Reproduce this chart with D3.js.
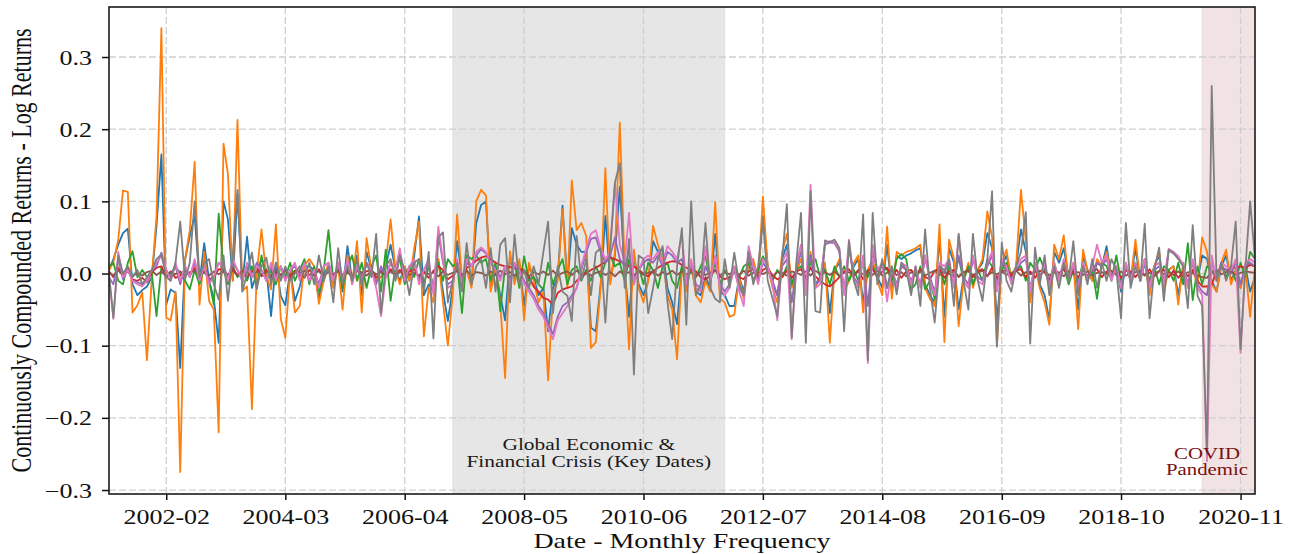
<!DOCTYPE html>
<html lang="en">
<head>
<meta charset="UTF-8">
<title>Continuously Compounded Returns</title>
<style>
  body { margin: 0; background: #fff; }
  svg text { font-family: "Liberation Serif", "DejaVu Serif", serif; fill: #111; }
</style>
</head>
<body>
<svg id="chart"></svg>
<script src="https://cdn.jsdelivr.net/npm/d3@7/dist/d3.min.js"></script>
<script>
// monthly observations, first one is 2001-02; values are log returns in percent
const firstMonth = "2001-02";
const tickMonths = ["2002-02", "2004-03", "2006-04", "2008-05", "2010-06", "2012-07", "2014-08", "2016-09", "2018-10", "2020-11"];
const yTicks = [-0.3, -0.2, -0.1, 0.0, 0.1, 0.2, 0.3];
const crisisSpan = ["2007-02", "2011-11"];
const covidSpan = ["2020-03", "2021-03"];
const crisisLabel = ["Global Economic &", "Financial Crisis (Key Dates)"];
const covidLabel = ["COVID", "Pandemic"];

const blue = [
  0.5, 2.0, 4.0, 5.6, 6.2, -1.5, -3.0, -2.3, -1.8, -0.5, 6.6, 16.5,
  -4.3, -2.2, -2.7, -13.1, 1.9, 5.2, 8.0, -1.3, 4.2, -1.0, -3.5, -9.6,
  10.0, 7.5, -1.0, 11.0, -1.5, 5.1, -2.0, 0.0, 2.0, 0.5, -5.9, 1.5,
  -3.1, -4.4, 0.5, -3.8, -1.8, 1.0, 1.0, 0.5, -3.5, 0.0, 1.0, -1.5,
  1.0, -2.5, 3.8, -1.0, 2.5, -3.0, 3.0, 0.5, -0.5, -0.5, 1.0, 4.0,
  0.5, -1.0, 1.0, -1.0, 2.5, 7.9, -3.0, -1.5, -2.5, 2.0, -2.5, -6.6,
  -2.0, 4.5, -0.5, 0.5, -1.5, 7.0, 9.5, 10.0, -2.0, 0.5, -3.0, -6.5,
  2.5, -1.0, 1.5, -4.5, 1.0, -0.5, -3.0, -2.0, -8.0, -2.0, -0.5, 9.4,
  -1.5, 6.3, 4.0, 3.0, 3.0, -7.5, -8.0, -1.5, 8.0, -1.0, 2.5, 12.0,
  0.5, -6.0, 2.5, -1.5, -3.0, -1.0, 4.5, 3.0, 3.4, -2.0, -4.0, -7.0,
  1.0, -2.0, 1.0, -2.5, -3.0, -0.5, -2.0, 5.5, -2.5, -3.0, -4.5, -4.5,
  -0.5, -2.5, 1.5, 1.5, -0.5, 8.0, 1.0, -1.5, -3.0, 2.0, 4.0, -1.5,
  0.5, 2.0, -1.0, 2.5, -1.5, -0.5, 1.0, -5.5, 0.5, 1.5, -2.0, -1.0,
  1.0, 2.0, -4.0, 0.5, 1.5, -0.5, -2.0, 4.0, -2.5, 2.5, 2.0, 2.5,
  2.8, 3.2, 3.5, -1.5, -3.0, -4.0, 5.0, -6.0, 3.5, 1.5, -5.0, -0.5,
  1.0, -1.5, 0.5, 1.5, 5.6, 3.5, -6.5, 1.0, 2.5, -0.5, 1.0, 6.1,
  3.0, -3.0, 1.0, -1.5, -3.0, -6.4, 3.0, 1.5, 3.5, -0.5, 1.0, -5.0,
  2.5, 0.5, -1.0, 1.5, 1.0, 3.8, -0.5, 1.0, -2.5, 1.0, -1.0, 3.5,
  -1.0, 1.5, -2.5, 1.0, 2.5, -2.0, 0.5, 1.0, -3.0, 1.0, -1.5, 0.5,
  -1.0, 2.5, 2.0, -1.0, -2.5, 1.0, 2.5, -1.0, 0.5, -2.0, 1.0, -2.5,
  -0.5
];
const orange = [
  0.5, 1.5, 4.7, 11.5, 11.3, -5.4, -4.4, -2.6, -12.0, -0.5, 8.0, 34.0,
  -6.1, -6.5, -2.5, -27.5, 2.0, 6.0, 15.5, -4.3, 3.0, -3.8, -5.0, -22.0,
  18.0, 13.8, -1.0, 21.3, -2.4, -1.8, -18.8, 0.2, 6.1, -0.4, -2.2, 6.8,
  -6.3, -8.9, 0.5, -5.4, -4.5, 1.2, 2.0, 1.0, -4.2, -1.0, 1.5, -2.0,
  1.0, -5.0, 2.5, -1.5, 4.5, -5.4, 4.9, 0.5, -1.0, -0.5, 1.5, 7.5,
  0.5, -1.5, 1.0, -1.0, 3.5, 7.2, -8.7, -2.0, -4.0, 2.0, -4.0, -10.0,
  -3.0, 8.2, -1.0, 0.5, -2.0, 10.0, 11.6, 10.8, -2.5, 1.0, -4.0, -14.5,
  3.1, -1.5, 2.0, -6.5, 1.5, -1.0, -4.0, -2.5, -14.8, -3.0, -1.0, 8.9,
  -2.0, 12.9, 6.0, 7.0, 5.2, -10.3, -9.5, -2.0, 14.6, -1.5, 3.0, 20.9,
  1.0, -10.5, 3.3, -2.0, -4.0, -1.0, 6.6, 4.0, 2.0, -3.0, -5.0, -11.9,
  1.0, -2.5, 1.5, -3.0, -4.0, -1.0, -2.5, 9.9, -3.5, -4.0, -6.0, -5.7,
  -0.5, -3.5, 1.5, 2.0, -1.0, 10.7, 1.0, -2.0, -4.0, 3.0, 5.5, -2.0,
  0.5, 2.0, -1.5, 3.0, -2.0, -0.5, 1.5, -9.6, 0.5, 2.0, -2.5, -1.0,
  1.5, 2.5, -5.4, 0.5, 2.0, -1.0, -3.0, 6.5, -3.5, 3.0, 2.5, 3.0,
  3.2, 3.5, 4.0, -2.0, -3.5, -4.5, 6.8, -9.5, 4.7, 2.0, -7.3, -1.0,
  1.5, -2.0, 0.5, 2.0, 8.6, 5.0, -10.1, 1.5, 3.3, -1.0, 1.0, 11.6,
  4.5, -4.0, 1.0, -2.0, -4.0, -7.1, 4.0, 2.0, 5.3, -1.0, 1.5, -7.7,
  3.3, 0.5, -1.0, 2.0, 1.0, 3.0, -0.5, 1.0, -2.0, 1.5, -1.0, 4.7,
  -1.0, 2.0, -3.0, 1.0, 3.0, -2.5, 0.5, 1.0, -4.3, 1.5, -2.0, 0.5,
  -1.5, 5.0, 3.0, -1.5, -2.5, 1.5, 3.3, -1.5, 0.5, -2.0, 1.0, -6.0,
  1.0
];
const green = [
  1.0, 1.5, -1.0, -1.5, 1.5, 3.1, -0.5, 0.5, -0.5, 0.0, -5.9, 1.0,
  -0.5, 0.0, 1.0, 0.0, -1.0, -2.2, 0.5, -1.5, 1.0, -1.0, -4.3, 8.3,
  0.5, -1.5, 1.0, -0.5, 0.5, -1.0, 1.0, -2.0, 2.5, -1.0, 0.5, -1.5,
  1.0, -0.5, 1.5, -1.0, 0.5, 2.0, -1.5, 1.0, -2.5, 0.5, 6.0, -1.0,
  1.5, -2.0, 1.0, 2.5, -1.0, 1.5, -2.0, 1.0, 2.5, -2.5, 3.3, -3.8,
  1.0, 2.0, -1.5, 1.0, -0.5, 2.0, -1.5, 1.0, -2.0, 1.5, -1.0, 2.0,
  1.0, 1.5, -5.5, 2.5, 2.0, 2.5, 1.5, 2.0, -1.0, 1.5, -5.2, 1.0,
  -1.0, 1.5, -2.0, 2.4, -1.0, -0.5, -1.5, -2.2, 1.5, -1.5, 0.5, 2.0,
  -1.5, 0.5, 1.0, -1.0, 0.5, -1.0, 1.0, -0.5, 1.5, 2.5, 1.0, 1.5,
  -1.0, 2.0, -1.5, 1.0, -1.5, 1.5, 0.5, -2.0, 1.0, 1.5, -1.0, -2.0,
  1.0, -1.5, 1.5, -0.5, 1.0, 2.4, -1.0, 1.5, -1.5, 0.5, -1.0, 1.0,
  -0.5, 1.0, 1.5, -1.0, 0.5, 2.4, 1.0, -1.0, 0.5, -0.5, 1.0, -1.5,
  0.5, 1.0, -1.0, 1.5, 2.0, -0.5, 0.5, -1.5, 1.0, -0.5, 1.0, -1.0,
  0.5, -1.0, 1.5, -0.5, 1.0, -0.5, 1.5, 0.5, -1.0, 2.0, 2.7, 2.0,
  -2.2, -1.5, 1.0, -2.2, -1.0, -3.5, 1.0, -1.5, 1.0, -0.5, 2.2, -1.0,
  1.0, -1.5, 0.5, -1.0, 2.0, 1.0, -1.0, 0.5, 1.5, -1.0, 0.5, 1.0,
  -1.0, 1.5, 0.5, 2.2, 0.5, -1.5, 1.5, -1.0, 1.0, -1.5, 0.5, -1.0,
  1.5, -1.0, 0.5, -3.5, 1.5, 1.0, -1.0, 2.5, -1.0, 1.0, -0.5, 1.5,
  -1.0, 2.0, -1.0, 1.0, -1.5, 1.0, 0.5, -1.0, 1.5, -1.5, 4.2, -3.7,
  1.0, -1.5, 1.0, 0.5, -1.0, 1.5, -0.5, 1.0, -1.0, 1.5, -0.5, 3.0,
  2.0
];
const red = [
  0.3, -0.5, 0.8, -0.3, 0.5, -0.8, -1.0, -0.6, -1.2, 0.2, 0.8, 1.0,
  -0.5, 0.3, -0.6, -0.3, 0.5, -0.2, 0.8, -0.4, 0.3, -0.8, -0.5, 0.6,
  0.5, -0.3, 0.7, -0.2, 0.4, -0.5, 0.3, 0.8, -0.4, 0.5, -0.6, 0.2,
  -0.3, 0.6, -0.5, 0.4, 0.2, -0.6, 0.5, -0.3, 0.6, -0.4, 0.3, -0.2,
  0.5, -0.3, 0.4, -0.5, 0.6, -0.2, 0.3, 0.5, -0.6, 0.4, -0.3, 0.6,
  -0.2, 0.5, -0.4, 0.3, 0.6, -0.5, 0.2, -0.6, 0.4, 1.0, 0.5, -0.8,
  -0.3, 0.6, -0.5, 0.8, 1.2, 1.8, 2.2, 2.4, 2.0, 1.5, 1.2, 1.0,
  0.9, 0.8, 0.6, 0.5, -0.5, -1.8, -2.5, -3.4, -3.6, -4.3, -2.7, -2.2,
  -2.0, -1.8, -1.0, -0.4, 0.0, 0.5, 0.8, 1.2, 1.6, 2.2, 2.0, 1.7,
  1.3, 1.0, 1.0, 0.5, 0.0, -0.4, 0.3, 0.8, 1.2, 1.5, 1.7, 1.6,
  1.2, 0.8, 0.5, 0.3, -0.5, -0.8, -0.3, 0.5, -0.4, -0.8, -0.5, 0.2,
  -0.5, -0.8, 0.3, 0.6, -0.4, 0.5, 0.8, -0.3, -0.8, -0.5, 0.4, -0.6,
  0.3, 0.6, -0.5, 0.8, -0.4, -1.0, -1.5, -1.8, -1.2, -0.5, 0.3, 0.6,
  -0.3, 0.5, -0.8, 0.4, 0.6, -0.5, 0.3, 0.8, -0.4, 0.5, -0.6, 0.3,
  0.5, -0.3, 0.6, -0.5, -0.8, 0.4, 0.6, -0.6, 0.3, 0.5, -0.5, 0.2,
  0.4, -0.5, 0.3, 0.6, -0.4, 0.8, -0.6, 0.3, 0.5, -0.3, 0.4, 0.6,
  -0.5, 0.3, -0.6, 0.4, 0.2, -0.8, 0.5, -0.3, 0.6, -0.4, 0.3, -0.5,
  0.5, -0.3, 0.4, 0.6, -0.5, 0.3, -0.4, 0.5, -0.6, 0.4, 0.3, -0.5,
  0.4, -0.3, 0.6, -0.4, 0.3, 0.5, -0.5, 0.4, -0.6, 0.3, -0.4, 0.5,
  -1.0, -1.8, -1.8, -1.5, 0.3, 0.8, 0.5, 0.6, 0.8, 1.0, 0.8, 1.2,
  1.0
];
const purple = [
  -0.5, -1.5, 2.0, -0.8, 0.5, -1.0, -1.2, -1.5, -1.0, 0.5, 1.0, 2.9,
  0.5, -0.5, 1.0, -1.5, 1.0, -0.5, 1.5, -0.8, 1.0, -1.0, -0.5, 1.5,
  1.0, -0.5, 1.5, 0.5, -1.0, 1.0, -0.5, 1.5, 0.5, -1.0, 1.0, -0.5,
  1.0, -1.0, 0.5, 1.0, -0.5, 1.5, -1.0, 0.5, -1.5, 1.0, 1.5, -0.5,
  1.0, -0.5, 1.5, -1.0, 1.0, -0.5, 1.5, 0.5, -1.5, 1.0, -0.5, 1.5,
  0.5, 3.0, -0.5, 1.0, 1.5, -1.0, 0.5, 1.5, -2.5, 5.5, 1.5, -1.5,
  -1.0, 1.5, -1.0, 1.5, 1.0, 2.5, 3.4, 2.8, 1.5, 0.5, -0.5, 1.0,
  -1.0, 1.0, 0.5, -1.0, -2.0, -3.0, -4.5, -5.5, -7.0, -8.4, -6.0, -4.5,
  -4.0, -3.0, -2.0, 0.5, 3.0, 4.8, 5.0, 3.0, 1.5, 2.5, 5.0, 2.0,
  1.0, 3.0, -1.0, 0.5, 1.5, 2.0, 1.5, 2.5, 1.0, 3.0, 2.5, 1.5,
  2.0, -1.0, 1.5, -1.5, -2.0, 1.0, -0.5, 2.0, -1.5, -2.5, -1.5, 0.5,
  -2.0, -3.0, 3.0, 0.5, -1.0, 1.5, 0.5, -1.0, -3.0, 1.0, 2.0, -4.0,
  1.0, 3.0, -2.0, 2.5, -1.5, -1.0, 4.0, 4.3, 4.2, 3.0, -2.5, 3.5,
  -0.5, -1.5, 2.0, -4.5, 3.0, 0.5, 1.0, -2.0, 0.5, -1.5, 1.0, 0.5,
  -1.0, 0.5, -1.5, 2.0, -0.5, -2.5, 1.0, 0.5, 1.5, -1.5, 2.5, -0.5,
  -1.5, 2.0, -0.5, -1.0, 1.0, 2.5, -2.0, 1.5, 0.5, -1.0, 0.5, 1.5,
  2.0, -2.0, 1.0, -0.5, 1.0, -1.5, 1.0, -0.5, 1.5, -0.5, 1.0, -1.5,
  1.0, -0.5, 0.5, 1.5, 1.0, 2.0, -0.5, 0.5, -1.5, 1.0, -0.5, 1.0,
  -0.5, 1.5, -1.5, 0.5, 1.0, -1.0, 3.2, 2.8, 2.2, 1.0, -1.5, 1.5,
  -1.5, -2.5, -3.0, 1.5, -0.5, 1.0, 0.5, 0.0, 1.5, -1.5, 1.0, 1.5,
  1.0
];
const brown = [
  0.2, -0.3, 0.4, -0.2, 0.3, -0.4, 0.1, -0.3, 0.2, 0.4, -0.2, 0.3,
  -0.4, 0.2, -0.1, 0.3, -0.3, 0.2, 0.4, -0.2, 0.1, -0.3, 0.3, -0.1,
  0.3, -0.2, 0.4, -0.3, 0.1, 0.2, -0.4, 0.3, -0.1, 0.2, -0.3, 0.4,
  -0.2, 0.3, -0.1, 0.2, -0.3, 0.4, -0.2, 0.1, 0.3, -0.3, 0.2, -0.1,
  0.3, -0.2, 0.1, -0.4, 0.3, 0.2, -0.3, 0.4, -0.1, 0.2, -0.2, 0.3,
  -0.3, 0.2, 0.4, -0.2, 0.1, -0.3, 0.3, -0.1, 0.2, -0.4, 0.3, -0.2,
  0.1, 0.3, -0.2, 0.4, -0.3, 0.2, 0.1, -0.3, 0.3, -0.2, 0.4, -0.1,
  0.2, -0.3, 0.1, 0.3, -0.4, 0.2, -0.1, 0.3, -0.2, 0.4, -0.3, 0.1,
  0.3, -0.2, 0.4, -0.1, 0.2, -0.3, 0.1, 0.3, -0.2, 0.2, -0.4, 0.3,
  -0.1, 0.2, -0.3, 0.4, -0.2, 0.1, 0.3, -0.3, 0.2, -0.1, 0.4, -0.2,
  0.3, -0.1, 0.2, -0.4, 0.3, -0.2, 0.1, 0.4, -0.3, 0.2, -0.1, 0.3,
  -0.2, 0.4, -0.3, 0.1, 0.2, -0.1, 0.3, -0.4, 0.2, 0.1, -0.3, 0.3,
  0.1, -0.2, 0.3, -0.3, 0.4, -0.1, 0.2, -0.2, 0.3, -0.4, 0.1, 0.2,
  -0.3, 0.3, -0.1, 0.2, -0.2, 0.4, -0.3, 0.1, 0.3, -0.2, 0.2, -0.4,
  0.2, -0.1, 0.3, -0.3, 0.1, 0.4, -0.2, 0.2, -0.1, 0.3, -0.4, 0.2,
  0.3, -0.2, 0.1, 0.4, -0.3, 0.2, -0.1, 0.3, -0.2, 0.1, 0.4, -0.3,
  0.2, -0.1, 0.3, -0.2, 0.4, -0.3, 0.1, 0.2, -0.4, 0.3, -0.1, 0.2,
  -0.2, 0.3, -0.3, 0.1, 0.2, -0.1, 0.4, -0.2, 0.3, -0.3, 0.1, 0.2,
  0.3, -0.2, 0.1, -0.3, 0.4, -0.1, 0.2, -0.2, 0.3, -0.4, 0.2, 0.1,
  -0.3, -0.5, -0.6, 0.2, 0.3, -0.1, 0.2, 0.3, -0.2, 0.1, 0.3, 0.2,
  0.1
];
const pink = [
  -0.5, -6.3, 3.0, -0.5, 0.5, -1.0, -1.5, -1.8, -1.0, 0.5, 1.5, 2.5,
  0.5, -1.0, 1.5, -1.0, 1.0, -0.5, 2.0, -1.0, 1.0, -1.5, -0.5, 1.5,
  1.0, -1.0, 2.0, 0.5, -1.0, 1.5, -0.5, 1.0, 0.5, -1.0, 1.5, -1.0,
  1.0, -1.0, 0.5, 1.5, -1.0, 1.5, -1.0, 0.5, -2.0, 1.0, 1.5, -1.0,
  1.5, -1.0, 2.0, -1.5, 1.0, -1.0, 1.5, 0.5, -2.0, -5.9, -0.5, 1.5,
  0.5, 3.5, -1.0, 1.0, 2.0, -1.5, 0.5, 2.0, -3.0, 6.5, 2.0, -2.0,
  -1.5, 2.0, -1.5, 2.0, 1.0, 3.0, 3.6, 3.0, 1.5, 0.5, -1.0, 1.0,
  -1.5, 1.5, 0.5, -1.5, -2.5, -3.5, -5.0, -6.0, -7.5, -9.1, -6.5, -5.5,
  -4.5, -3.5, -2.0, 1.0, 3.5, 5.5, 6.0, 3.5, 2.0, 3.0, 12.5, 4.0,
  1.5, 8.4, -1.5, 0.5, 2.0, 2.5, 2.0, 3.0, 1.5, 3.8, 3.0, 2.0,
  5.4, -1.5, 2.0, -2.0, -2.5, 3.8, -1.0, 2.5, -2.0, -3.0, -2.0, 1.0,
  -2.5, -4.5, 3.8, 1.0, -1.5, 2.0, 1.0, -1.5, -6.5, 1.5, 3.0, -9.1,
  1.5, 4.0, -3.0, 12.3, -2.0, -1.5, 4.2, 4.5, 4.4, 3.2, -3.0, 4.7,
  -1.0, -2.0, 2.5, -12.4, 4.0, 0.5, 1.5, -3.9, 1.0, -2.0, 1.5, 1.0,
  -1.5, 1.0, -2.0, 2.5, -1.0, -3.0, 1.5, 1.0, 2.0, -2.0, 5.4, -1.0,
  -2.0, 2.5, -1.0, -1.5, 1.5, 3.0, -2.5, 2.0, 1.0, -1.5, 1.0, 2.0,
  2.5, -2.5, 1.5, -1.0, 1.5, -2.0, 1.5, -1.0, 2.0, -1.0, 1.5, -2.0,
  1.5, -1.0, 1.0, 4.0, 1.5, 2.5, -1.0, 1.0, -2.0, 1.5, -1.0, 1.5,
  -1.0, 2.0, -2.0, 1.0, 1.5, -1.5, 3.4, 3.0, 2.4, 1.2, -2.0, 2.0,
  -2.0, -3.0, -26.0, 2.5, -1.0, 1.5, 1.0, 0.5, 2.0, -11.0, 1.5, 2.0,
  1.5
];
const gray = [
  0.0, -6.1, 2.5, 0.0, 1.0, -0.5, 0.5, -1.5, -0.5, 0.5, 2.0, 2.6,
  -0.5, -1.0, 1.5, 7.2, -0.8, 1.5, 10.0, -0.5, 1.5, 2.0, -1.5, -3.6,
  2.5, -3.8, 2.5, 11.6, -2.5, 0.0, 2.9, -2.2, 1.0, 2.2, -1.5, 1.5,
  -1.0, 1.0, -1.0, 0.0, 1.0, -0.5, 1.5, -1.5, 2.5, -1.0, 1.0, -4.0,
  3.5, -1.5, 1.0, -1.0, 2.0, -1.5, 1.5, -0.5, 5.5, -5.5, 1.0, 2.0,
  -1.0, 2.5, 0.5, -3.0, 1.5, 2.0, -2.5, 3.0, -9.0, 5.0, 5.7, -4.0,
  -1.0, 1.5, -2.5, 4.2, -1.5, 1.0, 2.0, -2.0, 3.5, -2.5, 4.0, 4.9,
  -4.0, 5.4, -1.5, 0.5, -2.0, 1.0, -1.5, 3.0, 7.2, -5.5, 1.0, -2.5,
  -3.1, -6.6, 5.2, -1.0, 2.0, -3.0, 2.9, 3.5, -6.8, 3.8, 12.6, 15.3,
  -2.0, 4.8, -14.0, 2.5, 2.0, -5.5, -2.0, 2.0, 3.8, -4.0, -9.1, 1.0,
  6.3, -7.1, 10.0, -3.0, -1.5, 7.0, -2.0, -3.5, -4.0, 2.0, -2.0, 2.9,
  -1.5, -3.0, 3.0, -1.5, 1.0, 7.5, -1.0, -3.5, -5.9, 2.0, 9.6, -8.9,
  2.0, 8.4, -9.6, 11.4, -5.2, -5.4, 4.6, 4.3, 4.7, 3.5, -8.0, 4.5,
  -1.0, -3.0, 8.2, -12.0, 8.4, -1.5, 2.0, -2.0, 1.0, -2.9, 1.5, 0.5,
  -3.0, 1.0, -4.5, 6.1, -2.0, -6.8, 1.0, 0.0, 2.0, -4.5, 5.5, -1.0,
  -5.0, 5.5, -1.0, -3.8, 2.0, 11.4, -10.1, 4.3, -1.0, -2.5, 1.0, 3.0,
  8.5, -9.7, 3.6, -1.5, 2.5, -3.0, 1.0, -2.0, 1.5, -1.0, 4.5, -3.0,
  1.0, -1.5, 2.0, -2.0, 1.5, -1.0, 2.0, 0.5, -6.2, 7.0, -2.0, 1.0,
  -1.0, 6.9, -6.2, 0.5, 3.6, -3.8, 3.3, 2.8, 2.0, 1.0, -4.8, 6.7,
  -3.1, -4.5, -25.0, 26.0, -1.0, 1.5, -1.0, 1.0, 7.2, -10.5, 0.5, 10.0,
  2.0
];

const series = [
  { color: "#1f77b4", values: blue },
  { color: "#ff7f0e", values: orange },
  { color: "#2ca02c", values: green },
  { color: "#d62728", values: red },
  { color: "#9467bd", values: purple },
  { color: "#8c564b", values: brown },
  { color: "#e377c2", values: pink },
  { color: "#7f7f7f", values: gray }
];

const width = 1302, height = 554;
const plotLeft = 109, plotRight = 1255, plotTop = 7, plotBottom = 494;
const stretch = 1.3;   // the picture's lettering is wide

const parseMonth = d3.utcParse("%Y-%m");
const start = parseMonth(firstMonth);
const dates = blue.map((_, i) => d3.utcMonth.offset(start, i));

const x = d3.scaleUtc().domain([dates[0], dates[dates.length - 1]]).range([plotLeft, plotRight]);
const y = d3.scaleLinear().domain([-0.3055, 0.3693]).range([plotBottom, plotTop]);

const svg = d3.select("#chart").attr("width", width).attr("height", height);

svg.append("defs").append("clipPath").attr("id", "plot-clip")
  .append("rect").attr("x", plotLeft).attr("y", plotTop)
  .attr("width", plotRight - plotLeft).attr("height", plotBottom - plotTop);

const plot = svg.append("g").attr("clip-path", "url(#plot-clip)");

// shaded periods
plot.append("rect")
  .attr("x", x(parseMonth(crisisSpan[0])))
  .attr("width", x(parseMonth(crisisSpan[1])) - x(parseMonth(crisisSpan[0])))
  .attr("y", plotTop).attr("height", plotBottom - plotTop)
  .attr("fill", "rgba(128,128,128,0.2)")
  .attr("stroke", "rgba(128,128,128,0.12)");

plot.append("rect")
  .attr("x", x(parseMonth(covidSpan[0])))
  .attr("width", x(parseMonth(covidSpan[1])) - x(parseMonth(covidSpan[0])))
  .attr("y", plotTop).attr("height", plotBottom - plotTop)
  .attr("fill", "rgba(128,0,0,0.11)")
  .attr("stroke", "rgba(128,0,0,0.08)");

// grid
const tickDates = tickMonths.map(parseMonth);
plot.append("g").selectAll("line").data(tickDates).join("line")
  .attr("x1", d => x(d)).attr("x2", d => x(d))
  .attr("y1", plotTop).attr("y2", plotBottom)
  .attr("stroke", "#cfcfcf").attr("stroke-width", 1.3).attr("stroke-dasharray", "7,3");
plot.append("g").selectAll("line").data(yTicks).join("line")
  .attr("x1", plotLeft).attr("x2", plotRight)
  .attr("y1", d => y(d)).attr("y2", d => y(d))
  .attr("stroke", "#cfcfcf").attr("stroke-width", 1.3).attr("stroke-dasharray", "7,3");

// return lines
const line = d3.line()
  .x((d, i) => x(dates[i]))
  .y(d => y(d / 100));

plot.append("g").selectAll("path").data(series).join("path")
  .attr("d", d => line(d.values))
  .attr("fill", "none")
  .attr("stroke", d => d.color)
  .attr("stroke-width", 1.8)
  .attr("stroke-linejoin", "round");

// annotations
const crisisMid = (x(parseMonth(crisisSpan[0])) + x(parseMonth(crisisSpan[1]))) / 2;
svg.append("g").selectAll("text").data(crisisLabel).join("text")
  .attr("transform", (d, i) => `translate(${crisisMid},${450 + i * 16.7}) scale(${stretch},1)`)
  .attr("text-anchor", "middle")
  .style("font-size", "16.5px")
  .style("fill", "#1a1a1a")
  .text(d => d);

svg.append("g").selectAll("text").data(covidLabel).join("text")
  .attr("transform", (d, i) => `translate(1207,${459 + i * 16}) scale(${stretch},1)`)
  .attr("text-anchor", "middle")
  .style("font-size", "16px")
  .style("fill", "#7a1010")
  .text(d => d);

// axes
const xAxis = svg.append("g")
  .attr("transform", `translate(0,${plotBottom})`)
  .call(d3.axisBottom(x).tickValues(tickDates).tickFormat(d3.utcFormat("%Y-%m")).tickSize(6).tickSizeOuter(0));
xAxis.selectAll("text")
  .attr("y", null).attr("dy", null)
  .attr("transform", `translate(0,29.5) scale(${stretch},1)`)
  .style("font-size", "20px");

const yAxis = svg.append("g")
  .attr("transform", `translate(${plotLeft},0)`)
  .call(d3.axisLeft(y).tickValues(yTicks).tickFormat(d3.format(".1f")).tickSize(7).tickSizeOuter(0));
yAxis.selectAll("text")
  .attr("x", null).attr("dy", null)
  .attr("transform", `translate(-17,7) scale(${stretch},1)`)
  .style("font-size", "20px");

svg.selectAll(".domain").remove();
svg.selectAll(".tick line").attr("stroke", "#111").attr("stroke-width", 1.5);

// frame
svg.append("rect")
  .attr("x", plotLeft).attr("y", plotTop)
  .attr("width", plotRight - plotLeft).attr("height", plotBottom - plotTop)
  .attr("fill", "none").attr("stroke", "#1a1a1a").attr("stroke-width", 1.6);

// axis titles
svg.append("text")
  .attr("transform", `translate(${(plotLeft + plotRight) / 2},548) scale(${stretch},1)`)
  .attr("text-anchor", "middle")
  .style("font-size", "21.5px")
  .text("Date - Monthly Frequency");

svg.append("text")
  .attr("transform", `translate(31,${(plotTop + plotBottom) / 2}) scale(${stretch},1) rotate(-90)`)
  .attr("text-anchor", "middle")
  .style("font-size", "22px")
  .text("Continuously Compounded Returns - Log Returns");
</script>
</body>
</html>
